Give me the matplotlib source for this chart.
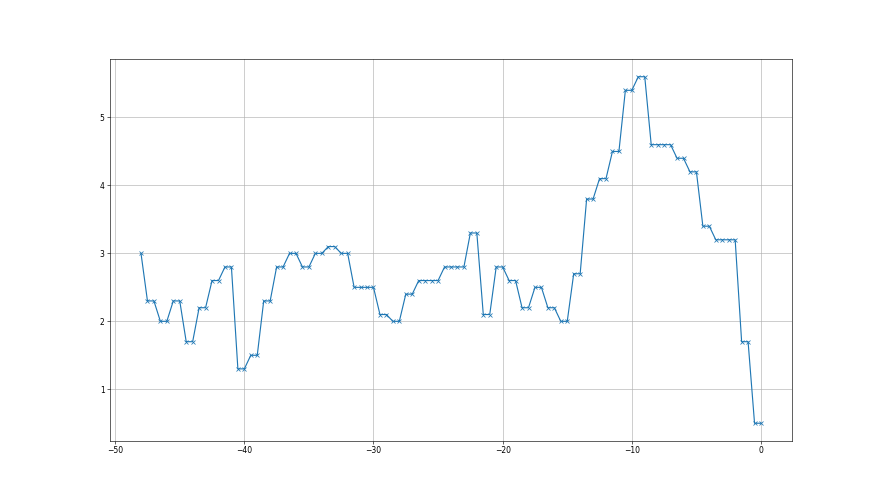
import numpy as np
import matplotlib
matplotlib.use('Agg')
import matplotlib.pyplot as plt

# time axis (step 0.5) and values
t = np.arange(-48, 0.5, 0.5)
values = [3.0,
          2.3, 2.3, 2.0, 2.0, 2.3, 2.3, 1.7, 1.7, 2.2, 2.2,
          2.6, 2.6, 2.8, 2.8, 1.3, 1.3, 1.5, 1.5, 2.3, 2.3,
          2.8, 2.8, 3.0, 3.0, 2.8, 2.8, 3.0, 3.0, 3.1, 3.1,
          3.0, 3.0, 2.5, 2.5, 2.5, 2.5, 2.1, 2.1, 2.0, 2.0,
          2.4, 2.4, 2.6, 2.6, 2.6, 2.6, 2.8, 2.8, 2.8, 2.8,
          3.3, 3.3, 2.1, 2.1, 2.8, 2.8, 2.6, 2.6, 2.2, 2.2,
          2.5, 2.5, 2.2, 2.2, 2.0, 2.0, 2.7, 2.7, 3.8, 3.8,
          4.1, 4.1, 4.5, 4.5, 5.4, 5.4, 5.6, 5.6, 4.6, 4.6,
          4.6, 4.6, 4.4, 4.4, 4.2, 4.2, 3.4, 3.4, 3.2, 3.2,
          3.2, 3.2, 1.7, 1.7, 0.5, 0.5]

fig = plt.figure(figsize=(16, 9), dpi=55)
ax = fig.add_subplot(111)
ax.plot(t, values, marker='x')
ax.grid(True)

fig.savefig('out.png', dpi=55)
